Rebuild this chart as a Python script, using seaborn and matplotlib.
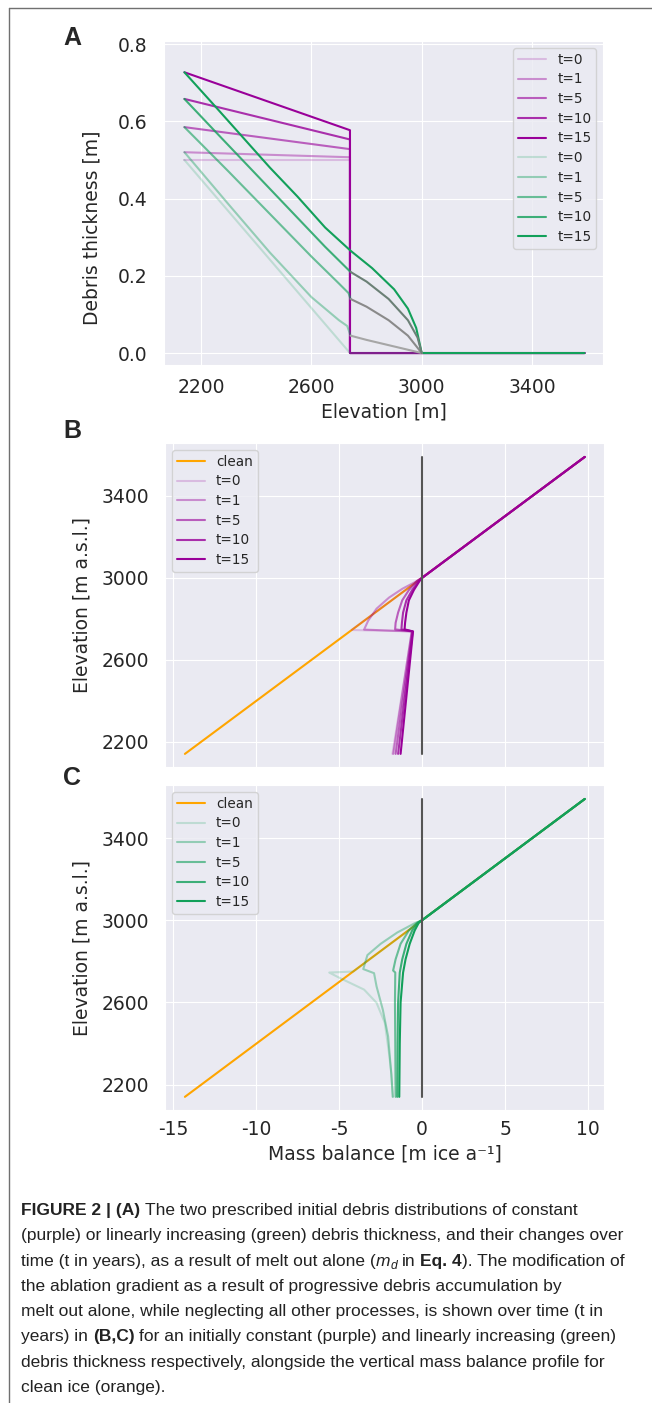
import matplotlib
matplotlib.use('Agg')
import matplotlib.pyplot as plt
import seaborn as sns
from matplotlib.lines import Line2D

# ---------------- data ----------------
times = ['t=0', 't=1', 't=5', 't=10', 't=15']

# (A) debris thickness [m] along elevation [m], constant initial debris (purple)
pa_x = [[2140, 2740, 2740, 3590],
        [2140, 2740, 2740, 3590],
        [2140, 2740, 2740, 3590],
        [2140, 2740, 2740, 3590],
        [2140, 2740, 2740, 3590]]
pa_y = [[0.500, 0.500, 0.0, 0.0],
        [0.520, 0.507, 0.0, 0.0],
        [0.585, 0.528, 0.0, 0.0],
        [0.658, 0.553, 0.0, 0.0],
        [0.727, 0.577, 0.0, 0.0]]

# (A) linearly increasing initial debris (green), lower part
ga_x = [[2140, 2740, 3590],
        [2140, 2300, 2450, 2600, 2700, 2730, 2742],
        [2140, 2300, 2450, 2600, 2700, 2735, 2742],
        [2140, 2250, 2350, 2450, 2550, 2650, 2742],
        [2140, 2250, 2350, 2450, 2550, 2650, 2742, 2820, 2900, 2950, 2980, 3000, 3590]]
ga_y = [[0.500, 0.0, 0.0],
        [0.520, 0.385, 0.260, 0.145, 0.085, 0.070, 0.045],
        [0.585, 0.470, 0.360, 0.250, 0.180, 0.155, 0.140],
        [0.658, 0.575, 0.500, 0.425, 0.350, 0.275, 0.210],
        [0.727, 0.640, 0.560, 0.480, 0.405, 0.325, 0.265, 0.220, 0.165, 0.115, 0.065, 0.0, 0.0]]
# (A) upper part of the green profiles (drawn grey in the original)
gr_x = [[2742, 2800, 2900, 3000],
        [2742, 2800, 2880, 2950, 3000],
        [2742, 2800, 2880, 2950, 2985, 3000]]
gr_y = [[0.045, 0.034, 0.017, 0.0],
        [0.140, 0.120, 0.085, 0.045, 0.0],
        [0.210, 0.185, 0.140, 0.085, 0.040, 0.0]]

# (B, C) mass balance [m ice a-1] vs elevation [m a.s.l.]
clean_mb = [-14.3, 9.8]
clean_z = [2140, 3590]
zero_mb = [0, 0]
zero_z = [2140, 3590]

pb_mb = [[9.8, 0.0, -4.25, -0.62, -1.79],
         [9.8, 0.0, -0.45, -1.20, -2.00, -2.75, -3.25, -3.50, -0.63, -1.74],
         [9.8, 0.0, -0.30, -0.80, -1.20, -1.45, -1.60, -1.63, -0.60, -1.60],
         [9.8, 0.0, -0.20, -0.60, -0.95, -1.15, -1.22, -1.25, -0.57, -1.45],
         [9.8, 0.0, -0.15, -0.50, -0.80, -0.95, -1.03, -1.06, -0.55, -1.30]]
pb_z = [[3590, 3000, 2745, 2738, 2140],
        [3590, 3000, 2978, 2946, 2903, 2849, 2791, 2747, 2738, 2140],
        [3590, 3000, 2985, 2940, 2890, 2830, 2780, 2748, 2738, 2140],
        [3590, 3000, 2985, 2940, 2890, 2830, 2780, 2748, 2738, 2140],
        [3590, 3000, 2985, 2940, 2890, 2830, 2780, 2748, 2738, 2140]]

gc_mb = [[9.8, 0.0, -4.15, -5.60, -5.00, -3.50, -2.75, -2.25, -2.00, -1.85, -1.79],
         [9.8, 0.0, -0.45, -1.50, -2.50, -3.30, -3.55, -2.90, -2.75, -2.37, -2.05, -1.88, -1.76],
         [9.8, 0.0, -0.30, -0.80, -1.30, -1.60, -1.75, -1.62, -1.64, -1.62, -1.60],
         [9.8, 0.0, -0.25, -0.60, -0.95, -1.20, -1.35, -1.45, -1.48, -1.50],
         [9.8, 0.0, -0.20, -0.45, -0.75, -1.00, -1.15, -1.30, -1.35, -1.38]]
gc_z = [[3590, 3000, 2750, 2745, 2720, 2662, 2598, 2500, 2353, 2250, 2140],
        [3590, 3000, 2985, 2940, 2885, 2830, 2762, 2742, 2678, 2564, 2433, 2270, 2140],
        [3590, 3000, 2988, 2950, 2885, 2810, 2755, 2745, 2600, 2400, 2140],
        [3590, 3000, 2988, 2950, 2885, 2810, 2745, 2600, 2400, 2140],
        [3590, 3000, 2988, 2950, 2885, 2810, 2745, 2600, 2400, 2140]]

caption = [
    [("FIGURE 2 | (A)", 'b'), (" The two prescribed initial debris distributions of constant", 'n')],
    [("(purple) or linearly increasing (green) debris thickness, and their changes over", 'n')],
    [("time (t in years), as a result of melt out alone (", 'n'), ("m", 'i'), ("d", 'sub'),
     (" in ", 'n'), ("Eq. 4", 'b'), ("). The modification of", 'n')],
    [("the ablation gradient as a result of progressive debris accumulation by", 'n')],
    [("melt out alone, while neglecting all other processes, is shown over time (t in", 'n')],
    [("years) in ", 'n'), ("(B,C)", 'b'), (" for an initially constant (purple) and linearly increasing (green)", 'n')],
    [("debris thickness respectively, alongside the vertical mass balance profile for", 'n')],
    [("clean ice (orange).", 'n')],
]

# ---------------- style ----------------
sns.set_style('darkgrid')
plt.rcParams['font.family'] = ['DejaVu Sans']
plt.rcParams['axes.unicode_minus'] = False

purple = '#990099'
green = '#12a05a'
orange = 'orange'
alphas = [0.2, 0.4, 0.6, 0.8, 1.0]
greys = ['#a6a6a6', '#8a8a8a', '#6b8076']

W, H = 652, 1403
fig = plt.figure(figsize=(W / 100, H / 100), dpi=100)


def box(l, t, r, b):
    return [l / W, 1 - b / H, (r - l) / W, (b - t) / H]


axA = fig.add_axes(box(164, 41, 603, 365))
axB = fig.add_axes(box(165, 443, 604, 767))
axC = fig.add_axes(box(165, 785, 604, 1110))

lw = 1.5
fs = 13.5
leg_kw = dict(fontsize=9.8, labelspacing=0.42, handlelength=2.1,
              handletextpad=0.8, borderpad=0.35)

# (A)
for i, t in enumerate(times):
    sns.lineplot(x=pa_x[i], y=pa_y[i], ax=axA, color=purple, alpha=alphas[i], lw=lw,
                 sort=False, estimator=None, label=t)
for i, t in enumerate(times):
    sns.lineplot(x=ga_x[i], y=ga_y[i], ax=axA, color=green, alpha=alphas[i], lw=lw,
                 sort=False, estimator=None, label=t)
for i in range(3):
    sns.lineplot(x=gr_x[i], y=gr_y[i], ax=axA, color=greys[i], lw=lw,
                 sort=False, estimator=None)
axA.set_xlim(2066, 3657)
axA.set_ylim(-0.031, 0.808)
axA.set_xticks([2200, 2600, 3000, 3400])
axA.set_yticks([0.0, 0.2, 0.4, 0.6, 0.8])
axA.set_yticklabels(['0.0', '0.2', '0.4', '0.6', '0.8'])
axA.tick_params(axis='x', length=0, pad=9.5, labelsize=fs)
axA.tick_params(axis='y', length=0, pad=12, labelsize=fs)
axA.set_xlabel('Elevation [m]', fontsize=fs)
axA.set_ylabel('Debris thickness [m]', fontsize=fs)
axA.xaxis.set_label_coords(0.5, -0.117)
axA.yaxis.set_label_coords(-0.142, 0.423)
axA.legend(loc='upper right', **leg_kw)

# (B) and (C)
for ax, mbs, zs, col in [(axB, pb_mb, pb_z, purple), (axC, gc_mb, gc_z, green)]:
    sns.lineplot(x=clean_mb, y=clean_z, ax=ax, color=orange, lw=lw, sort=False,
                 estimator=None, label='clean')
    for i, t in enumerate(times):
        sns.lineplot(x=mbs[i], y=zs[i], ax=ax, color=col, alpha=alphas[i], lw=lw,
                     sort=False, estimator=None, label=t)
    sns.lineplot(x=zero_mb, y=zero_z, ax=ax, color='#555555', lw=lw, sort=False,
                 estimator=None)
    ax.set_xlim(-15.5, 10.96)
    ax.set_ylim(2076, 3658)
    ax.set_xticks([-15, -10, -5, 0, 5, 10])
    ax.set_yticks([2200, 2600, 3000, 3400])
    ax.tick_params(axis='x', length=0, pad=7.3, labelsize=fs)
    ax.tick_params(axis='y', length=0, pad=11.5, labelsize=fs)
    ax.set_ylabel('Elevation [m a.s.l.]', fontsize=fs)
    ax.yaxis.set_label_coords(-0.168, 0.5)
    ax.legend(loc='upper left', **leg_kw)

axB.tick_params(axis='x', labelbottom=False)
axB.set_xlabel('')
axC.set_xlabel('Mass balance [m ice a\u207b\u00b9]', fontsize=fs)
axC.xaxis.set_label_coords(0.5, -0.105)

# panel letters
for letter, base in [('A', 45), ('B', 438), ('C', 785)]:
    fig.text(63 / W, 1 - base / H, letter, fontsize=18, fontweight='bold',
             family=['Liberation Sans', 'DejaVu Sans'], va='baseline', ha='left')

# frame lines of the page
fig.add_artist(Line2D([9 / W, 9 / W], [0, 1 - 8 / H], transform=fig.transFigure,
                      color='#707070', lw=1))
fig.add_artist(Line2D([9 / W, 1], [1 - 8 / H, 1 - 8 / H], transform=fig.transFigure,
                      color='#707070', lw=1))

# caption with mixed styles
renderer = fig.canvas.get_renderer()
cap_font = ['Liberation Sans Narrow', 'Liberation Sans', 'DejaVu Sans']
cap_size = 12.4


def width_of(s, size, **kw):
    t = fig.text(0, 0, s, fontsize=size, family=cap_font, **kw)
    w = t.get_window_extent(renderer).width
    t.remove()
    return w


# scale the caption so that the long second line spans the page width
w2 = width_of(caption[1][0][0], cap_size)
cap_size = cap_size * 603 / w2
space_w = width_of('x x', cap_size) - width_of('xx', cap_size)
styles = {'n': {}, 'b': {'fontweight': 'bold'}, 'i': {'fontstyle': 'italic'},
          'sub': {'fontstyle': 'italic'}}

base0 = 1215
for k, parts in enumerate(caption):
    y = base0 + k * 25.3
    x = 21
    for txt, st in parts:
        lead = len(txt) - len(txt.lstrip(' '))
        trail = len(txt) - len(txt.rstrip(' '))
        x += lead * space_w
        core = txt.strip(' ')
        size = cap_size * 0.7 if st == 'sub' else cap_size
        yy = y + 3 if st == 'sub' else y
        t = fig.text(x / W, 1 - yy / H, core, fontsize=size, family=cap_font,
                     va='baseline', ha='left', color='#222222', **styles[st])
        x += t.get_window_extent(renderer).width + trail * space_w

fig.savefig('out.png', dpi=100)
